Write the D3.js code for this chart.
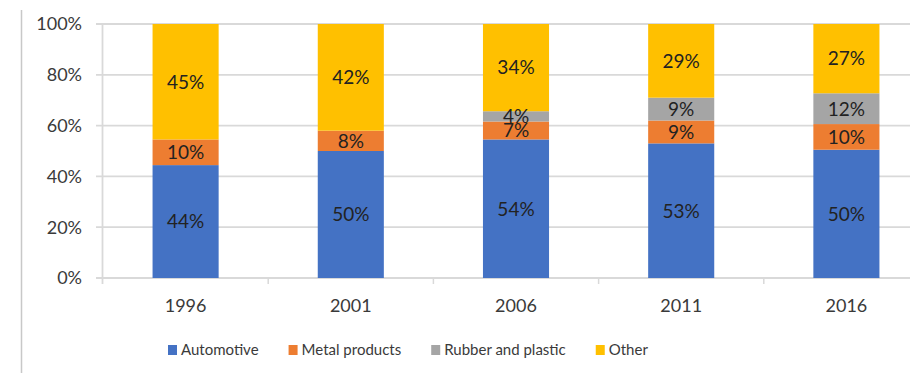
<!DOCTYPE html>
<html>
<head>
<meta charset="utf-8">
<script src="https://cdn.jsdelivr.net/npm/d3@7"></script>
<style>
  html, body { margin: 0; padding: 0; background: #fff; }
  svg { display: block; }
  text { font-family: Lato, "Open Sans", sans-serif; }
</style>
</head>
<body>
<svg id="chart" width="910" height="373"></svg>
<script>
const years = ["1996", "2001", "2006", "2011", "2016"];
const automotive = [44, 50, 54, 53, 50];
const metalProducts = [10, 8, 7, 9, 10];
const rubberPlastic = [0, 0, 4, 9, 12];
const other = [45, 42, 34, 29, 27];
const seriesNames = ["Automotive", "Metal products", "Rubber and plastic", "Other"];
const seriesColors = ["#4472C4", "#ED7D31", "#A5A5A5", "#FFC000"];
const yTickValues = [0, 0.2, 0.4, 0.6, 0.8, 1];

const seriesValues = [automotive, metalProducts, rubberPlastic, other];
const table = years.map((y, i) => {
  const row = { year: y };
  seriesNames.forEach((n, k) => row[n] = seriesValues[k][i]);
  return row;
});

const svg = d3.select("#chart");

// frame line on left
svg.append("line").attr("x1", 21.5).attr("x2", 21.5).attr("y1", 10).attr("y2", 373)
  .attr("stroke", "#c8c8c8").attr("stroke-width", 1.5);

const x = d3.scaleBand().domain(years).range([103, 929]).paddingInner(0.6).paddingOuter(0.3);
const y = d3.scaleLinear().domain([0, 1]).range([278, 24]);

// gridlines (with outside tick marks)
svg.append("g").selectAll("line").data(yTickValues).join("line")
  .attr("x1", 96).attr("x2", 910)
  .attr("y1", d => y(d)).attr("y2", d => y(d))
  .attr("stroke", "#d9d9d9").attr("stroke-width", 1.8);

// y axis line
svg.append("line").attr("x1", 102.5).attr("x2", 102.5).attr("y1", y(1)).attr("y2", y(0) + 6)
  .attr("stroke", "#d9d9d9").attr("stroke-width", 1.8);

// category tick marks at band boundaries
const boundaries = years.slice(1).map(yr => x(yr) - x.step() * x.paddingInner() / 2);
svg.append("g").selectAll("line").data(boundaries).join("line")
  .attr("x1", d => d).attr("x2", d => d)
  .attr("y1", y(0)).attr("y2", y(0) + 6)
  .attr("stroke", "#d9d9d9").attr("stroke-width", 1.5);

// y tick labels
svg.append("g").selectAll("text").data(yTickValues).join("text")
  .attr("x", 82).attr("y", d => y(d))
  .attr("dy", "0.36em")
  .attr("text-anchor", "end")
  .attr("font-size", 18)
  .attr("fill", "#3a3a3a")
  .text(d => d3.format(".0%")(d));

// x labels
svg.append("g").selectAll("text").data(years).join("text")
  .attr("x", d => x(d) + x.bandwidth() / 2).attr("y", 306)
  .attr("dy", "0.36em")
  .attr("text-anchor", "middle")
  .attr("font-size", 18)
  .attr("fill", "#3a3a3a")
  .text(d => d);

// stacked bars
const stack = d3.stack().keys(seriesNames).offset(d3.stackOffsetExpand);
const layers = stack(table);

const layerG = svg.append("g").selectAll("g").data(layers).join("g")
  .attr("fill", (d, i) => seriesColors[i]);

layerG.selectAll("rect").data(d => d).join("rect")
  .attr("x", d => x(d.data.year))
  .attr("width", x.bandwidth())
  .attr("y", d => y(d[1]))
  .attr("height", d => Math.max(0, y(d[0]) - y(d[1])));

// data labels
layers.forEach((layer, k) => {
  svg.append("g").selectAll("text").data(layer.filter(d => d.data[layer.key] > 0)).join("text")
    .attr("x", d => x(d.data.year) + x.bandwidth() / 2)
    .attr("y", d => (y(d[0]) + y(d[1])) / 2)
    .attr("dy", "0.36em")
    .attr("text-anchor", "middle")
    .attr("font-size", 19)
    .attr("fill", "#222")
    .text(d => d.data[layer.key] + "%");
});

// legend
const legend = svg.append("g");
let lx = 168;
seriesNames.forEach((name, i) => {
  legend.append("rect").attr("x", lx).attr("y", 345).attr("width", 9).attr("height", 10)
    .attr("fill", seriesColors[i]);
  const t = legend.append("text").attr("x", lx + 13).attr("y", 350)
    .attr("dy", "0.36em").attr("font-size", 15).attr("fill", "#3a3a3a").text(name);
  lx = lx + 13 + t.node().getComputedTextLength() + 30;
});
</script>
</body>
</html>
